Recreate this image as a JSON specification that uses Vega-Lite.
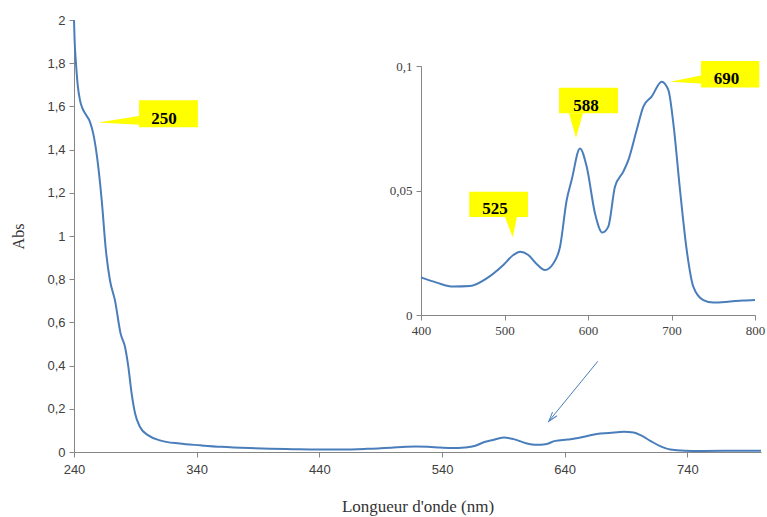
{
  "$schema": "https://vega.github.io/schema/vega-lite/v6.json",
  "width": 687,
  "height": 432,
  "autosize": "none",
  "padding": {"left": 74, "top": 20, "right": 6, "bottom": 65},
  "background": "white",
  "config": {
    "view": {"stroke": null},
    "axis": {"grid": false, "labelFlush": false, "labelOverlap": false, "domainColor": "#868686", "tickColor": "#868686", "tickSize": 5, "labelColor": "#404040", "labelFont": "Liberation Sans", "labelFontSize": 13, "titleFont": "Liberation Serif", "titleFontWeight": "normal", "titleColor": "#333333"}
  },
  "datasets": {
    "spectrum": [
      {"nm": 240, "abs": 2.0},
      {"nm": 240.5, "abs": 1.906},
      {"nm": 241.6, "abs": 1.8},
      {"nm": 243, "abs": 1.7},
      {"nm": 244.9, "abs": 1.628},
      {"nm": 247, "abs": 1.59},
      {"nm": 249, "abs": 1.568},
      {"nm": 253, "abs": 1.528},
      {"nm": 255.7, "abs": 1.474},
      {"nm": 259.8, "abs": 1.32},
      {"nm": 262.6, "abs": 1.165},
      {"nm": 266, "abs": 0.934},
      {"nm": 269.3, "abs": 0.795},
      {"nm": 273.4, "abs": 0.702},
      {"nm": 278, "abs": 0.548},
      {"nm": 281.6, "abs": 0.486},
      {"nm": 284.3, "abs": 0.394},
      {"nm": 287, "abs": 0.27},
      {"nm": 289.8, "abs": 0.178},
      {"nm": 293.8, "abs": 0.116},
      {"nm": 300.6, "abs": 0.077},
      {"nm": 310, "abs": 0.054},
      {"nm": 326, "abs": 0.039},
      {"nm": 343, "abs": 0.031},
      {"nm": 360, "abs": 0.024},
      {"nm": 383, "abs": 0.018},
      {"nm": 400, "abs": 0.0151},
      {"nm": 418.8, "abs": 0.013},
      {"nm": 438.7, "abs": 0.0114},
      {"nm": 458.7, "abs": 0.0116},
      {"nm": 478.6, "abs": 0.0147},
      {"nm": 498.6, "abs": 0.0201},
      {"nm": 510.6, "abs": 0.0241},
      {"nm": 518.6, "abs": 0.0254},
      {"nm": 528.5, "abs": 0.0241},
      {"nm": 538.5, "abs": 0.0205},
      {"nm": 548.5, "abs": 0.0181},
      {"nm": 558.5, "abs": 0.0207},
      {"nm": 566.5, "abs": 0.0274},
      {"nm": 574.5, "abs": 0.0462},
      {"nm": 580.4, "abs": 0.0542},
      {"nm": 590.4, "abs": 0.0669},
      {"nm": 598.4, "abs": 0.0596},
      {"nm": 608.4, "abs": 0.0408},
      {"nm": 617.2, "abs": 0.0331},
      {"nm": 624.3, "abs": 0.0355},
      {"nm": 632.3, "abs": 0.0515},
      {"nm": 642.3, "abs": 0.0576},
      {"nm": 648.3, "abs": 0.0622},
      {"nm": 658.3, "abs": 0.0743},
      {"nm": 666.3, "abs": 0.0837},
      {"nm": 676.2, "abs": 0.0877},
      {"nm": 688.2, "abs": 0.0937},
      {"nm": 696.2, "abs": 0.0904},
      {"nm": 702.2, "abs": 0.077},
      {"nm": 710.2, "abs": 0.0502},
      {"nm": 718.2, "abs": 0.0261},
      {"nm": 726.1, "abs": 0.0114},
      {"nm": 738.1, "abs": 0.006},
      {"nm": 750.1, "abs": 0.005},
      {"nm": 770.1, "abs": 0.0054},
      {"nm": 786, "abs": 0.0058},
      {"nm": 800, "abs": 0.006}
    ]
  },
  "layer": [
    {
      "layer": [
        {
          "data": {"name": "spectrum"},
          "mark": {"type": "line", "color": "#4a7ebb", "strokeWidth": 2, "interpolate": "monotone"},
          "encoding": {
            "x": {"field": "nm", "type": "quantitative", "scale": {"domain": [240, 800], "nice": false, "zero": false},
                  "axis": {"values": [240, 340, 440, 540, 640, 740], "title": "Longueur d'onde (nm)", "titleFontSize": 17, "titlePadding": 22, "labelPadding": 6}},
            "y": {"field": "abs", "type": "quantitative", "scale": {"domain": [0, 2], "nice": false},
                  "axis": {"values": [0, 0.2, 0.4, 0.6, 0.8, 1, 1.2, 1.4, 1.6, 1.8, 2], "labelExpr": "replace(format(datum.value, '.1~f'), '.', ',')", "title": "Abs", "titleFontSize": 16, "titlePadding": 20, "labelPadding": 4}}
          }
        },
        {
          "data": {"values": [
            {"nm": 259.6, "abs": 1.526, "abs2": 1.526},
            {"nm": 293, "abs": 1.556, "abs2": 1.515}
          ]},
          "mark": {"type": "area", "color": "#ffff00", "orient": "vertical"},
          "encoding": {
            "x": {"field": "nm", "type": "quantitative", "title": "Longueur d'onde (nm)"},
            "y": {"field": "abs", "type": "quantitative", "title": "Abs"},
            "y2": {"field": "abs2"}
          }
        },
        {
          "data": {"values": [{"nm": 293, "nm2": 341, "abs": 1.628, "abs2": 1.503}]},
          "mark": {"type": "rect", "color": "#ffff00"},
          "encoding": {
            "x": {"field": "nm", "type": "quantitative", "title": "Longueur d'onde (nm)"},
            "x2": {"field": "nm2"},
            "y": {"field": "abs", "type": "quantitative", "title": "Abs"},
            "y2": {"field": "abs2"}
          }
        },
        {
          "data": {"values": [{"nm": 313.4, "abs": 1.54, "label": "250"}]},
          "mark": {"type": "text", "font": "Liberation Serif", "fontWeight": "bold", "fontSize": 17, "color": "black", "align": "center", "baseline": "middle"},
          "encoding": {
            "x": {"field": "nm", "type": "quantitative", "title": "Longueur d'onde (nm)"},
            "y": {"field": "abs", "type": "quantitative", "title": "Abs"},
            "text": {"field": "label"}
          }
        },
        {
          "data": {"values": [{"nm": 667, "abs": 0.42, "nm2": 627, "abs2": 0.142}]},
          "mark": {"type": "rule", "color": "#4a7ebb", "strokeWidth": 1},
          "encoding": {
            "x": {"field": "nm", "type": "quantitative", "title": "Longueur d'onde (nm)"},
            "y": {"field": "abs", "type": "quantitative", "title": "Abs"},
            "x2": {"field": "nm2"},
            "y2": {"field": "abs2"}
          }
        },
        {
          "data": {"values": [{"nm": 627, "abs": 0.142}]},
          "mark": {"type": "point", "shape": "M -0.6 2 L 0 0 L 0.6 2", "filled": false, "stroke": "#4a7ebb", "strokeWidth": 1, "size": 90, "angle": 219, "opacity": 1},
          "encoding": {
            "x": {"field": "nm", "type": "quantitative", "title": "Longueur d'onde (nm)"},
            "y": {"field": "abs", "type": "quantitative", "title": "Abs"}
          }
        }
      ]
    },
    {
      "layer": [
        {
          "data": {"name": "spectrum"},
          "transform": [{"filter": "datum.nm >= 400"}],
          "mark": {"type": "line", "color": "#4a7ebb", "strokeWidth": 2, "interpolate": "monotone"},
          "encoding": {
            "x": {"field": "nm", "type": "quantitative", "scale": {"domain": [400, 800], "nice": false, "zero": false, "range": [347, 681]},
                  "axis": {"orient": "bottom", "offset": -137, "values": [400, 500, 600, 700, 800], "title": null, "labelFont": "Liberation Serif", "labelFontSize": 13, "labelPadding": 4}},
            "y": {"field": "abs", "type": "quantitative", "scale": {"domain": [0, 0.1], "nice": false, "range": [295, 46]},
                  "axis": {"orient": "left", "offset": -347, "values": [0, 0.05, 0.1], "labelExpr": "replace(format(datum.value, '.2~f'), '.', ',')", "title": null, "labelFont": "Liberation Serif", "labelFontSize": 13, "labelPadding": 4}}
          }
        },
        {
          "data": {"values": [
            {"nm": 698.2, "abs": 0.0937, "abs2": 0.0937},
            {"nm": 735.3, "abs": 0.0962, "abs2": 0.093}
          ]},
          "mark": {"type": "area", "color": "#ffff00", "orient": "vertical"},
          "encoding": {
            "x": {"field": "nm", "type": "quantitative"},
            "y": {"field": "abs", "type": "quantitative"},
            "y2": {"field": "abs2"}
          }
        },
        {
          "data": {"values": [
            {"id": "a", "abs": 0.0394, "nm": 500.6, "nm2": 515},
            {"id": "a", "abs": 0.0312, "nm": 509.8, "nm2": 509.8},
            {"id": "b", "abs": 0.081, "nm": 577.2, "nm2": 594},
            {"id": "b", "abs": 0.0712, "nm": 585.6, "nm2": 585.6}
          ]},
          "mark": {"type": "area", "color": "#ffff00", "orient": "horizontal"},
          "encoding": {
            "y": {"field": "abs", "type": "quantitative"},
            "x": {"field": "nm", "type": "quantitative"},
            "x2": {"field": "nm2"},
            "detail": {"field": "id"}
          }
        },
        {
          "data": {"values": [
            {"nm": 457.8, "nm2": 528.1, "abs": 0.0495, "abs2": 0.0394},
            {"nm": 565.3, "nm2": 636, "abs": 0.0913, "abs2": 0.081},
            {"nm": 735.3, "nm2": 805.1, "abs": 0.102, "abs2": 0.0914}
          ]},
          "mark": {"type": "rect", "color": "#ffff00"},
          "encoding": {
            "x": {"field": "nm", "type": "quantitative"},
            "x2": {"field": "nm2"},
            "y": {"field": "abs", "type": "quantitative"},
            "y2": {"field": "abs2"}
          }
        },
        {
          "data": {"values": [
            {"nm": 488.6, "abs": 0.0425, "label": "525"},
            {"nm": 597.6, "abs": 0.0839, "label": "588"},
            {"nm": 766, "abs": 0.0947, "label": "690"}
          ]},
          "mark": {"type": "text", "font": "Liberation Serif", "fontWeight": "bold", "fontSize": 17, "color": "black", "align": "center", "baseline": "middle"},
          "encoding": {
            "x": {"field": "nm", "type": "quantitative"},
            "y": {"field": "abs", "type": "quantitative"},
            "text": {"field": "label"}
          }
        }
      ]
    }
  ],
  "resolve": {"scale": {"x": "independent", "y": "independent"}, "axis": {"x": "independent", "y": "independent"}}
}
